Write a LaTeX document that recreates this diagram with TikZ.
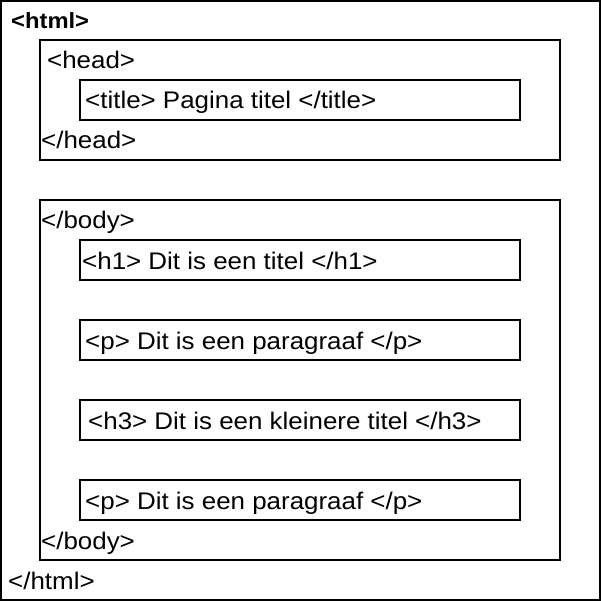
\documentclass[tikz,border=0pt]{standalone}
\usepackage{fontspec}
\setmainfont[FakeStretch=1.08]{Liberation Sans}
\begin{document}
\begin{tikzpicture}[x=1pt,y=-1pt,
  tagbox/.style={draw=black, line width=1.2pt, minimum width=#1, inner sep=0pt, outer sep=0pt},
  tagtext/.style={anchor=base west, inner sep=0pt, font=\fontsize{24}{28}\selectfont}]
\useasboundingbox (0,0) rectangle (601,601);
% document frame
\node[tagbox=599pt, minimum height=599pt] (html) at (300.5,300.5) {};
% head section
\node[tagbox=520pt, minimum height=120pt] (head) at (300,100) {};
\node[tagbox=440pt, minimum height=40pt] (title) at (300,100) {};
% body section
\node[tagbox=520pt, minimum height=360pt] (body) at (300,380) {};
\node[tagbox=440pt, minimum height=40pt] (h1) at (300,260) {};
\node[tagbox=440pt, minimum height=40pt] (p1) at (300,340) {};
\node[tagbox=440pt, minimum height=40pt] (h3) at (300,420) {};
\node[tagbox=440pt, minimum height=40pt] (p2) at (300,500) {};
% tag labels (base line positions)
\node[tagtext, font=\fontsize{22}{26}\selectfont\bfseries] (thtml) at (11,29) {<html>};
\node[tagtext] (thead) at (47,69) {<head>};
\node[tagtext] (ttitle) at (85,109) {<title> Pagina titel </title>};
\node[tagtext] (tehead) at (41,149) {</head>};
\node[tagtext] (tbody) at (41,229) {</body>};
\node[tagtext] (th1) at (82,269) {<h1> Dit is een titel </h1>};
\node[tagtext] (tp1) at (85,349) {<p> Dit is een paragraaf </p>};
\node[tagtext] (th3) at (88,429) {<h3> Dit is een kleinere titel </h3>};
\node[tagtext] (tp2) at (85,509) {<p> Dit is een paragraaf </p>};
\node[tagtext] (tebody) at (41,549) {</body>};
\node[tagtext] (tehtml) at (8,589) {</html>};
\end{tikzpicture}
\end{document}
